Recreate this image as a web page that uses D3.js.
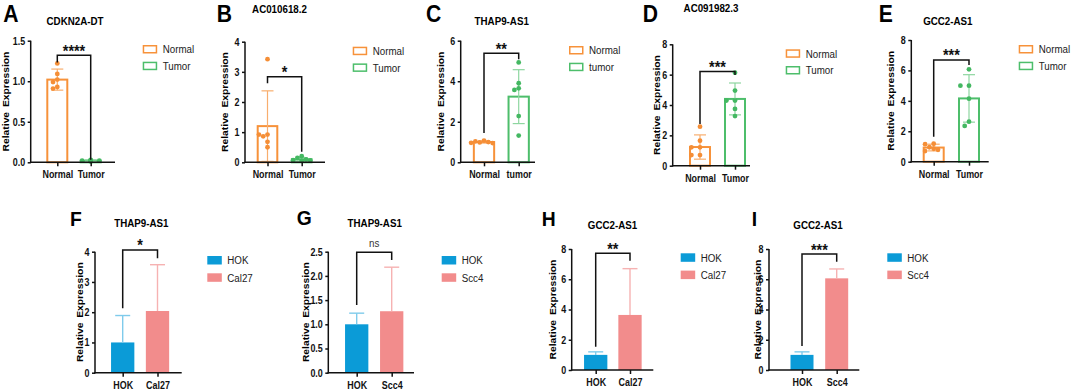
<!DOCTYPE html>
<html><head><meta charset="utf-8">
<script src="https://cdn.jsdelivr.net/npm/d3@7"></script>
<style>
html,body{margin:0;padding:0;background:#fff;}
svg{display:block;font-family:"Liberation Sans",Arial,Helvetica,sans-serif;}
</style></head>
<body><svg id="fig" width="1072" height="390"></svg>
<script>
// ---------------- DATA ----------------
const panelLetters = ["A","B","C","D","E","F","G","H","I"];
const geneTitles = ["CDKN2A-DT","AC010618.2","THAP9-AS1","AC091982.3","GCC2-AS1","THAP9-AS1","THAP9-AS1","GCC2-AS1","GCC2-AS1"];
const groupNames = [["Normal","Tumor"],["Normal","Tumor"],["Normal","tumor"],["Normal","Tumor"],["Normal","Tumor"],
                    ["HOK","Cal27"],["HOK","Scc4"],["HOK","Cal27"],["HOK","Scc4"]];
const meanValues = [[1.02,0.02],[1.20,0.10],[1.00,3.24],[1.23,4.40],[0.93,4.16],[1.00,2.04],[1.00,1.27],[1.00,3.64],[1.00,6.06]];
const sdValues   = [[0.13,0.01],[1.17,0.05],[0.05,1.33],[0.80,1.05],[0.22,1.56],[0.89,1.53],[0.23,0.91],[0.20,3.06],[0.20,0.62]];
const pointsA = [[1.22,1.09,1.02,0.99,0.93,0.91],[0.03,0.02,0.02,0.02,0.01,0.02]];
const pointsB = [[3.42,0.92,0.86,0.92,0.68,0.50],[0.20,0.15,0.10,0.07,0.05,0.06]];
const pointsC = [[1.07,1.03,1.00,0.98,0.96,0.95],[4.93,3.90,3.57,3.65,2.28,1.32]];
const pointsD = [[2.57,1.65,1.21,1.21,0.70,0.70],[6.13,4.95,4.29,4.29,3.74,3.27]];
const pointsE = [[1.18,1.15,0.95,0.85,0.78,0.70],[6.07,5.00,5.00,4.14,2.63,2.35]];
const pointsF = [[],[]], pointsG = [[],[]], pointsH = [[],[]], pointsI = [[],[]];
const allPoints = [pointsA,pointsB,pointsC,pointsD,pointsE,pointsF,pointsG,pointsH,pointsI];
const yMaxValues = [1.5,4,6,8,8,4,2.5,8,8];
const yTickSteps = [0.5,1,2,2,2,1,0.5,2,2];
const sigLabels = ["****","*","**","***","***","*","ns","**","***"];
// bracket: [top level, left leg end, right leg end] in axis units
const bracketLevels = [[1.32,1.23,0.03],[2.84,2.62,0.35],[5.38,1.45,5.08],[6.2,2.74,5.98],[6.69,1.64,6.36],
                       [4.06,2.13,3.78],[2.49,1.40,2.33],[7.72,1.54,7.23],[7.67,1.59,7.16]];

// ---------------- LAYOUT / STYLE ----------------
const layout = [
 {ax:30.7, x1:115,  yTop:40.7, yBot:162.3, c1:57.3, c2:90.7, bw:22,   lx:3.3,   ly:22,   tx:75,    ty:25,   legX:142.7, legY:45,   yt:25.7, row:0},
 {ax:245,  x1:325,  yTop:41.7, yBot:162.3, c1:267.5,c2:301.7,bw:21.6, lx:216.7, ly:21.7, tx:279.5, ty:13.3, legX:352.7, legY:46.7, yt:21,   row:0},
 {ax:460.7,x1:535,  yTop:40.7, yBot:162.3, c1:484,  c2:518.7,bw:22.3, lx:426,   ly:21.7, tx:501.7, ty:25,   legX:569,   legY:46,   yt:20.7, row:0},
 {ax:672.7,x1:750,  yTop:44.3, yBot:165.7, c1:700,  c2:735,  bw:22,   lx:642.7, ly:21.7, tx:711,   ty:11.7, legX:785.7, legY:49.3, yt:16,   row:0},
 {ax:911.3,x1:988.7,yTop:40,   yBot:161.7, c1:933.7,c2:969,  bw:22,   lx:878.7, ly:21.7, tx:947.8, ty:25,   legX:1018.7,legY:45,   yt:21,   row:0},
 {ax:95,   x1:181.7,yTop:251.7,yBot:372.7, c1:122.7,c2:157.5,bw:23.3, lx:70,    ly:226,  tx:141.3, ty:226.7,legX:207.3, legY:256,  yt:16,   row:1},
 {ax:328.3,x1:414,  yTop:251.7,yBot:372.7, c1:356.7,c2:391.7,bw:23.3, lx:296.7, ly:225,  tx:374.7, ty:226.7,legX:441.7, legY:256,  yt:22.6, row:1},
 {ax:571.7,x1:653.3,yTop:249,  yBot:370,   c1:595.7,c2:630,  bw:23.3, lx:541.7, ly:226,  tx:612.5, ty:229,  legX:680.7, legY:253.3,yt:19.4, row:1},
 {ax:769,  x1:859.3,yTop:249,  yBot:370,   c1:802,  c2:836.7,bw:23,   lx:751.7, ly:226,  tx:818,   ty:229,  legX:887.3, legY:253.3,yt:11.3, row:1}
];
const rowColors = [
  {main:["#F7923A","#4DBE6B"], light:["#F8AE6E","#8ED6A0"], dot:["#F58E36","#44B862"]},
  {main:["#0B9BD7","#F28C8C"], light:["#7FCBEB","#F6B2B2"], dot:["#0B9BD7","#F28C8C"]}
];
const SX = 0.85; // horizontal text squeeze seen in the figure

const svg = d3.select("#fig");

function txt(g, x, y, s, o) {
  const t = g.append("text")
    .attr("transform", `translate(${x},${y}) scale(${o.sx ?? SX},1)`)
    .attr("text-anchor", o.anchor || "start")
    .attr("font-size", o.size)
    .attr("font-weight", o.weight || "normal")
    .attr("fill", o.fill || "#000")
    .text(s);
  return t;
}

layout.forEach((L, i) => {
  const g = svg.append("g");
  const groups = groupNames[i];
  const cols = rowColors[L.row];
  const top = L.row === 0;

  const x = d3.scalePoint().domain(groups).range([L.c1, L.c2]);
  const y = d3.scaleLinear().domain([0, yMaxValues[i]]).range([L.yBot, L.yTop]);

  // panel letter + title
  txt(g, L.lx, L.ly, panelLetters[i], {size: top ? 23 : 21, weight: "bold", sx: 0.92});
  txt(g, L.tx, L.ty, geneTitles[i], {size: 11.5, weight: "bold", anchor: "middle"});

  // bars
  groups.forEach((name, k) => {
    const m = meanValues[i][k], sd = sdValues[i][k];
    const cx = x(name), hw = L.bw / 2;
    if (top) {
      g.append("rect").attr("x", cx - hw + 1).attr("y", y(m))
        .attr("width", L.bw - 2).attr("height", Math.max(0, y(0) - y(m)))
        .attr("fill", "none").attr("stroke", cols.main[k]).attr("stroke-width", 2);
      const lo = Math.max(0, m - sd), hi = m + sd, cw = 6;
      g.append("line").attr("x1", cx).attr("x2", cx).attr("y1", y(lo)).attr("y2", y(hi))
        .attr("stroke", cols.light[k]).attr("stroke-width", 1.2);
      [lo, hi].forEach(v => g.append("line").attr("x1", cx - cw).attr("x2", cx + cw)
        .attr("y1", y(v)).attr("y2", y(v)).attr("stroke", cols.light[k]).attr("stroke-width", 1.2));
      // dots (simple beeswarm)
      const pts = allPoints[i][k].slice().sort((a, b) => b - a);
      const placed = [];
      pts.forEach(v => {
        const vy = y(v);
        let px = cx;
        for (const s of [0, -1, 1, -2, 2, -3, 3]) {
          const cand = cx + s * 4.3;
          if (placed.every(p => Math.hypot(p[0] - cand, p[1] - vy) >= 4.4)) { px = cand; break; }
        }
        placed.push([px, vy]);
      });
      g.selectAll(null).data(placed).enter().append("circle")
        .attr("cx", d => d[0]).attr("cy", d => d[1]).attr("r", 2.4).attr("fill", cols.dot[k]);
    } else {
      g.append("rect").attr("x", cx - hw).attr("y", y(m))
        .attr("width", L.bw).attr("height", y(0) - y(m)).attr("fill", cols.main[k]);
      const hi = m + sd, cw = 7.5;
      g.append("line").attr("x1", cx).attr("x2", cx).attr("y1", y(m)).attr("y2", y(hi))
        .attr("stroke", cols.light[k]).attr("stroke-width", 1.4);
      g.append("line").attr("x1", cx - cw).attr("x2", cx + cw).attr("y1", y(hi)).attr("y2", y(hi))
        .attr("stroke", cols.light[k]).attr("stroke-width", 1.4);
    }
  });

  // axes
  const ticks = d3.range(0, yMaxValues[i] + yTickSteps[i] / 2, yTickSteps[i]);
  const fmt = yTickSteps[i] < 1 ? d3.format(".1f") : d3.format("d");
  const ya = g.append("g").attr("transform", `translate(${L.ax},0)`)
    .call(d3.axisLeft(y).tickValues(ticks).tickFormat(fmt).tickSize(3).tickSizeOuter(0));
  ya.select(".domain").attr("d", `M0,${L.yBot + 0.75}V${L.yTop}`);
  ya.selectAll("line,.domain").attr("stroke", "#111").attr("stroke-width", 1.5);
  ya.selectAll("text").attr("x", 0).attr("transform", `translate(-5.5,0) scale(${SX},1)`)
    .attr("font-size", 10.5).attr("font-weight", "bold").attr("fill", "#111")
    .attr("font-family", "Liberation Sans, Arial, sans-serif");

  const xa = g.append("g").attr("transform", `translate(0,${L.yBot})`)
    .call(d3.axisBottom(x).tickSize(4).tickSizeOuter(0));
  xa.select(".domain").attr("d", `M${L.ax - 0.75},0H${L.x1}`);
  xa.selectAll("line,.domain").attr("stroke", "#111").attr("stroke-width", 1.5);
  xa.selectAll("text").attr("y", 0).attr("dy", null)
    .attr("transform", `translate(0,16) scale(${SX},1)`)
    .attr("font-size", 10.5).attr("font-weight", "bold").attr("fill", "#111")
    .attr("font-family", "Liberation Sans, Arial, sans-serif");

  // y title
  const ym = (L.yTop + L.yBot) / 2;
  g.append("text").attr("transform", `translate(${L.ax - L.yt + 3.5},${ym}) rotate(-90) scale(1,${SX})`)
    .attr("text-anchor", "middle").attr("font-size", 10.3).attr("font-weight", "bold")
    .attr("word-spacing", 2).text("Relative Expression");

  // significance bracket
  const b = bracketLevels[i];
  const xl = x(groups[0]), xr = x(groups[1]);
  g.append("path").attr("d", `M${xl},${y(b[1])}V${y(b[0])}H${xr}V${y(b[2])}`)
    .attr("fill", "none").attr("stroke", "#111").attr("stroke-width", 1.5);
  if (sigLabels[i] === "ns") {
    txt(g, (xl + xr) / 2, y(b[0]) - 5, "ns", {size: 11.5, anchor: "middle", fill: "#333"});
  } else {
    txt(g, (xl + xr) / 2, y(b[0]) - 8.3 + 0.58 * 17, sigLabels[i], {size: 17, weight: "bold", anchor: "middle", fill: "#111"});
  }

  // legend
  groups.forEach((name, k) => {
    const by = L.legY + k * (top ? 16.7 : 17.3);
    if (top) {
      g.append("rect").attr("x", L.legX + 0.75).attr("y", by + 0.75).attr("width", 13).attr("height", 7)
        .attr("fill", "#fff").attr("stroke", cols.main[k]).attr("stroke-width", 1.5);
    } else {
      g.append("rect").attr("x", L.legX).attr("y", by).attr("width", 14.5).attr("height", 8.5)
        .attr("fill", cols.main[k]);
    }
    txt(g, L.legX + 20, by + 4.2 + 4, name, {size: 11.5, fill: "#222"});
  });
});
</script>
</body></html>
